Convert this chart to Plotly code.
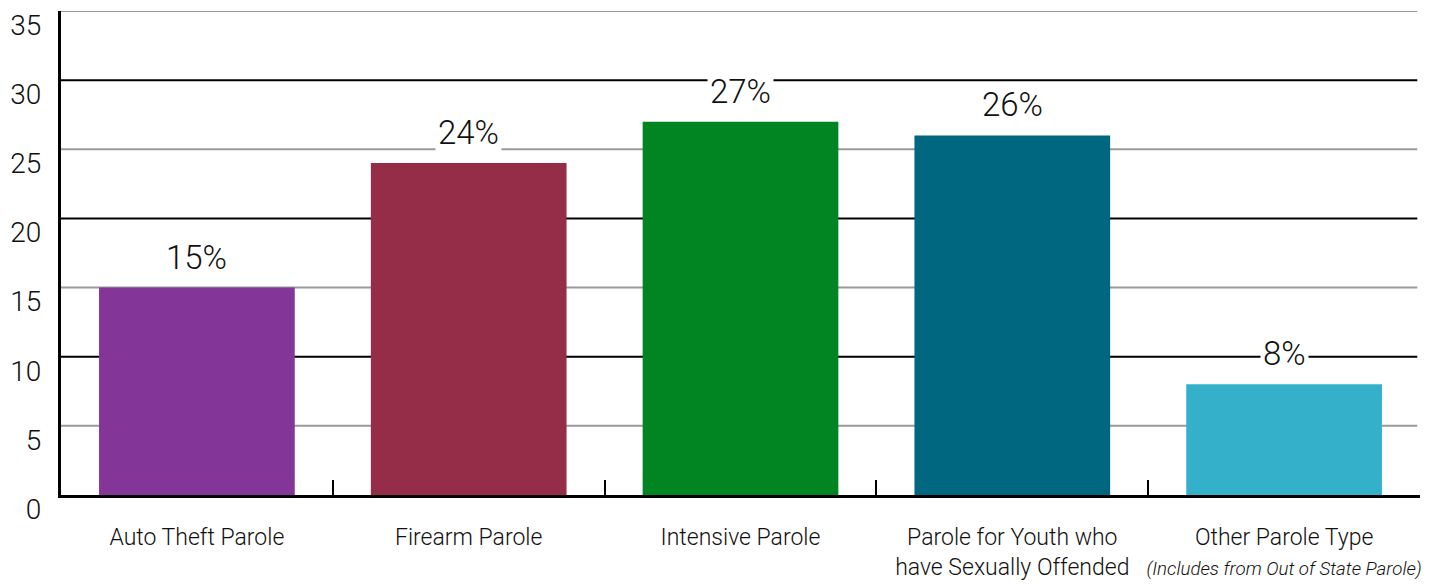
import plotly.graph_objects as go

categories = [
    "Auto Theft Parole",
    "Firearm Parole",
    "Intensive Parole",
    "Parole for Youth who<br>have Sexually Offended",
    "Other Parole Type<br><i><span style='font-size:18.7px'>(Includes from Out of State Parole)</span></i>",
]
values = [15, 24, 27, 26, 8]
colors = ["#843598", "#952D48", "#018522", "#006781", "#34B0CB"]
y_ticks = [0, 5, 10, 15, 20, 25, 30, 35]

FONT = "Roboto, sans-serif"

fig = go.Figure()
fig.add_trace(go.Bar(
    x=categories, y=values, marker=dict(color=colors, line=dict(width=0)),
    width=0.72, hoverinfo="skip",
))

# gridlines: alternating gray/black
for v in y_ticks[1:]:
    col = "#000000" if v % 10 == 0 else "#9a9a9a"
    fig.add_shape(type="line", xref="paper", yref="y", x0=0, x1=0.998, y0=v, y1=v,
                  line=dict(color=col, width=2), layer="below")

for c, v in zip(categories, values):
    fig.add_annotation(x=c, y=v, text=f"{v}%", showarrow=False, yanchor="bottom",
                       yshift=8, bgcolor="white", borderpad=2,
                       font=dict(family=FONT, size=33, color="#111", weight=300))

fig.update_layout(
    width=1439, height=585,
    margin=dict(l=61, r=19, t=11, b=90),
    plot_bgcolor="white", paper_bgcolor="white",
    showlegend=False, bargap=0.28,
    font=dict(family=FONT, color="#111", weight=300),
)
fig.update_xaxes(
    automargin=False, tickangle=0,
    showgrid=False, showline=True, linecolor="black", linewidth=3,
    ticks="inside", tickson="boundaries", ticklen=15, tickwidth=2, tickcolor="black",
    tickfont=dict(family=FONT, size=23, color="#111", weight=300), ticklabelstandoff=19,
)
fig.update_yaxes(
    automargin=False,
    range=[0, 35], tickvals=y_ticks, showgrid=False, zeroline=False,
    showline=True, linecolor="black", linewidth=3, ticks="",
    tickfont=dict(family=FONT, size=28, color="#111", weight=300), ticklabelshift=14,
    ticklabelstandoff=11,
)

fig.write_html("out.html", config={"displayModeBar": False},
               post_script="document.body.style.margin='0';")
